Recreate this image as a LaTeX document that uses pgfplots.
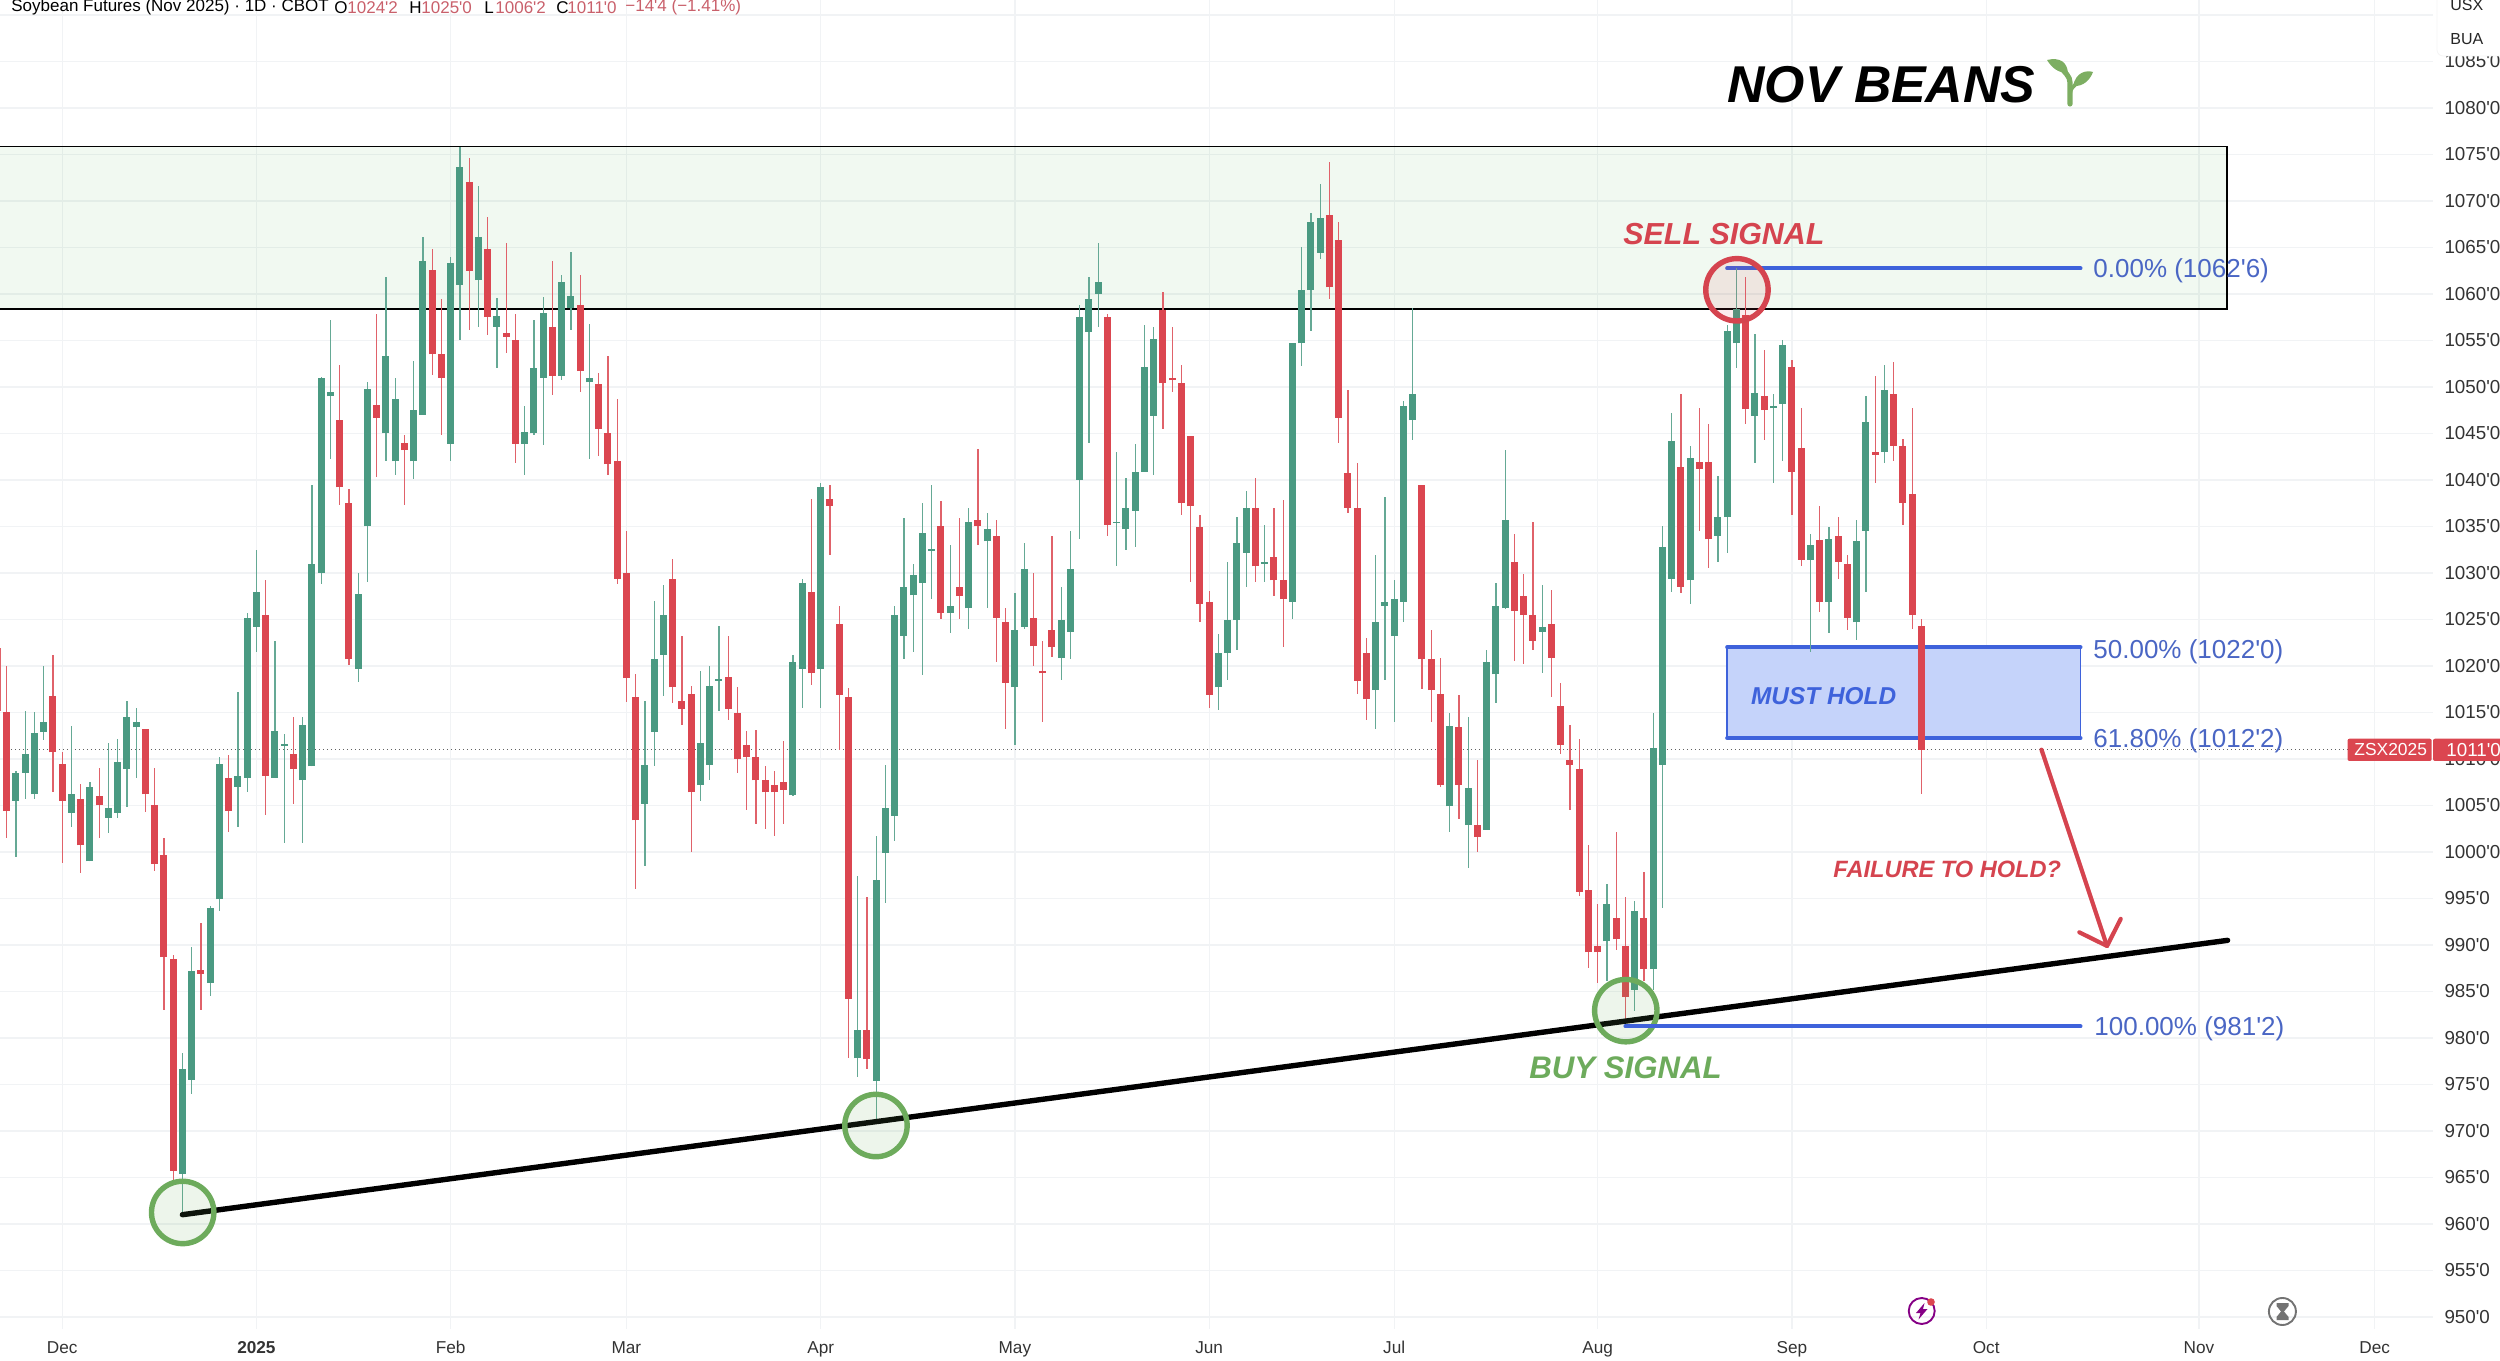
\documentclass[border=0pt]{standalone}
\usepackage{pgfplots}
\usepackage{pgfplotstable}
\usepackage{fontspec}
\pgfplotsset{compat=1.18}
\newfontfamily\lib{Liberation Sans}
\definecolor{cg}{HTML}{4A9A82}
\definecolor{cr}{HTML}{DB4650}
\definecolor{grid}{HTML}{F1F3F5}
\definecolor{fib}{HTML}{3E62DB}
\definecolor{fibfill}{HTML}{C5D3FA}
\definecolor{fibtxt}{HTML}{4A66C4}
\definecolor{annr}{HTML}{D5444F}
\definecolor{anng}{HTML}{6DAB5C}
\definecolor{hdrr}{HTML}{C9606B}
\definecolor{sprout}{HTML}{7DAE62}
% columns: candle index, high, body top, body bottom, low
\pgfplotstableread{
i h top bot l
1 1008.7 1008.5 1005.5 999.5
2 1015.2 1010.5 1008.5 1005.7
3 1015.0 1012.8 1006.2 1005.7
4 1020.0 1014.0 1012.9 1012.0
7 1013.5 1006.2 1004.2 1002.7
9 1007.5 1007.0 999.0 999.0
11 1011.7 1004.7 1003.7 1002.0
12 1012.2 1009.7 1004.2 1003.7
13 1016.2 1014.5 1008.9 1004.8
14 1015.5 1014.0 1013.4 1008.0
19 978.4 976.7 965.4 961.0
20 989.8 987.2 975.5 974.0
22 994.2 994.0 985.9 984.5
23 1010.2 1009.5 994.9 993.7
25 1017.2 1008.2 1007.0 1002.7
26 1025.7 1025.2 1008.0 1006.5
27 1032.5 1028.0 1024.2 1021.5
29 1022.7 1013.0 1008.0 1008.0
30 1012.7 1011.6 1011.4 1001.0
32 1014.5 1013.7 1007.7 1001.0
33 1039.5 1031.0 1009.2 1009.2
34 1051.1 1051.0 1030.0 1028.8
35 1057.2 1049.5 1049.0 1042.3
38 1030.0 1027.7 1019.7 1018.3
39 1050.5 1049.8 1035.0 1029.0
41 1061.8 1053.3 1045.0 1042.0
42 1051.0 1048.7 1042.0 1040.5
44 1052.8 1047.5 1042.0 1040.1
45 1066.1 1063.5 1047.0 1047.0
48 1064.0 1063.3 1043.9 1042.0
49 1075.8 1073.6 1061.0 1055.0
51 1071.6 1066.1 1061.5 1056.5
53 1059.6 1057.6 1056.5 1052.0
56 1048.0 1045.2 1043.9 1040.5
57 1057.2 1052.0 1045.0 1044.8
58 1059.7 1058.0 1051.0 1043.8
60 1062.0 1061.3 1051.2 1050.8
61 1064.5 1059.8 1058.5 1056.1
63 1056.8 1051.0 1050.5 1042.3
69 1016.2 1009.4 1005.2 998.5
70 1027.0 1020.7 1012.9 1009.2
71 1028.7 1025.5 1021.2 1016.8
75 1019.5 1011.7 1007.2 1005.5
76 1020.0 1017.9 1009.4 1007.7
77 1024.3 1018.6 1018.4 1015.2
85 1021.2 1020.4 1006.1 1006.0
86 1029.4 1028.9 1019.7 1015.5
88 1039.7 1039.2 1019.7 1015.5
92 997.4 980.9 977.8 975.8
94 1001.7 997.0 975.4 971.2
95 1009.4 1004.7 999.9 994.5
96 1026.4 1025.5 1003.9 1001.2
97 1035.9 1028.5 1023.2 1020.8
98 1031.0 1029.8 1027.6 1021.5
99 1037.5 1034.3 1028.9 1019.0
100 1039.5 1032.6 1032.4 1027.2
102 1033.0 1026.5 1025.7 1023.5
104 1037.0 1035.5 1026.2 1024.0
106 1036.5 1034.7 1033.4 1026.2
109 1027.9 1023.9 1017.7 1011.5
110 1033.2 1030.4 1024.2 1024.0
114 1028.5 1024.9 1020.9 1018.5
115 1034.5 1030.4 1023.7 1020.7
116 1058.8 1057.5 1040.0 1033.7
117 1061.8 1059.5 1055.9 1044.0
118 1065.5 1061.3 1060.0 1056.5
120 1043.0 1035.5 1035.4 1030.7
121 1040.2 1037.0 1034.7 1032.5
122 1043.9 1040.9 1036.7 1032.8
123 1056.7 1052.2 1040.9 1040.9
124 1056.4 1055.2 1046.9 1040.5
131 1023.4 1021.4 1017.7 1015.3
132 1031.2 1024.9 1021.4 1018.5
133 1036.0 1033.2 1024.9 1021.7
134 1038.8 1037.0 1032.2 1028.5
136 1035.2 1031.2 1031.0 1029.0
139 1054.7 1054.7 1026.9 1025.0
140 1065.0 1060.4 1054.7 1052.3
141 1068.75 1067.7 1060.4 1056.0
142 1071.8 1068.2 1064.45 1063.8
148 1031.9 1024.7 1017.4 1013.2
149 1038.2 1026.9 1026.5 1018.5
150 1029.2 1027.2 1023.2 1014.0
151 1048.5 1048.0 1026.9 1024.7
152 1058.5 1049.2 1046.4 1044.3
156 1014.9 1013.6 1004.9 1002.2
158 1014.5 1006.9 1002.9 998.3
160 1021.7 1020.4 1002.4 1002.4
161 1028.9 1026.4 1019.1 1016.0
162 1043.2 1035.7 1026.2 1026.1
166 1028.7 1024.2 1023.7 1019.2
173 996.6 994.4 990.4 986.1
176 994.7 993.7 985.2 982.9
178 1014.9 1011.2 987.4 985.2
179 1035.0 1032.8 1009.4 994.0
180 1047.2 1044.2 1029.4 1028.0
182 1043.7 1042.4 1029.2 1026.7
185 1040.4 1036.0 1034.0 1031.2
186 1056.7 1056.0 1036.0 1032.2
187 1062.8 1058.4 1054.7 1052.0
189 1055.7 1049.4 1046.9 1041.8
191 1049.2 1048.0 1047.7 1039.7
192 1055.0 1054.5 1048.2 1042.0
195 1034.2 1033.0 1031.4 1021.5
197 1034.9 1033.7 1026.9 1023.5
200 1035.7 1033.4 1024.7 1022.8
201 1049.0 1046.2 1034.5 1028.0
203 1052.4 1049.7 1043.0 1041.8
}\greendata
\pgfplotstableread{
i h top bot l
0 1020.0 1015.0 1004.4 1001.5
5 1021.2 1016.8 1010.7 1006.5
6 1010.7 1009.5 1005.5 998.8
8 1007.3 1005.7 1000.7 997.7
10 1009.0 1006.0 1005.0 1001.5
15 1013.2 1013.2 1006.2 1004.3
16 1009.0 1005.0 998.7 998.0
17 1001.5 999.7 988.7 983.0
18 988.9 988.5 965.7 964.6
21 992.4 987.3 986.9 983.0
24 1010.4 1008.0 1004.4 1002.2
28 1029.2 1025.5 1008.2 1004.0
31 1014.5 1010.5 1008.9 1005.2
36 1052.4 1046.5 1039.2 1037.3
37 1039.0 1037.5 1020.7 1020.1
40 1057.8 1048.1 1046.7 1040.3
43 1044.8 1044.0 1043.2 1037.3
46 1064.8 1062.6 1053.5 1051.3
47 1059.5 1053.5 1051.0 1044.8
50 1074.6 1072.0 1062.5 1056.1
52 1068.3 1064.8 1057.5 1055.6
54 1065.5 1055.8 1055.4 1053.6
55 1057.8 1055.0 1043.9 1041.8
59 1063.5 1056.5 1051.2 1049.1
62 1062.0 1058.8 1051.7 1049.5
64 1051.5 1050.3 1045.5 1042.6
65 1053.3 1045.0 1041.7 1040.5
66 1048.7 1042.0 1029.4 1028.8
67 1034.5 1030.0 1018.7 1016.1
68 1019.1 1016.7 1003.4 996.0
72 1031.5 1029.3 1017.7 1016.0
73 1023.2 1016.2 1015.4 1013.7
74 1017.9 1017.0 1006.4 1000.0
78 1023.2 1018.8 1015.4 1014.2
79 1017.7 1014.9 1010.0 1008.5
80 1013.0 1011.5 1010.2 1004.5
81 1013.1 1010.2 1007.7 1003.0
82 1009.2 1007.7 1006.4 1002.5
83 1008.7 1007.2 1006.4 1001.7
84 1011.9 1007.5 1006.7 1003.0
87 1037.95 1028.0 1019.2 1018.0
89 1039.5 1037.95 1037.2 1031.95
90 1026.4 1024.5 1016.9 1011.0
91 1017.6 1016.7 984.2 977.9
93 995.2 980.9 977.7 976.7
101 1037.7 1035.0 1025.7 1025.0
103 1035.9 1028.5 1027.5 1025.0
105 1043.3 1035.7 1035.0 1033.0
107 1035.7 1034.0 1025.2 1020.4
108 1026.2 1024.7 1018.2 1013.2
111 1030.0 1025.2 1022.1 1020.0
112 1022.7 1019.5 1019.2 1014.0
113 1034.0 1023.9 1022.0 1021.0
119 1057.8 1057.5 1035.2 1034.0
125 1060.2 1058.3 1050.4 1045.5
126 1056.4 1051.0 1050.7 1049.5
127 1052.4 1050.4 1037.5 1036.2
128 1044.7 1044.7 1037.2 1029.0
129 1036.2 1034.9 1026.7 1024.7
130 1028.1 1026.9 1016.9 1015.5
135 1040.2 1037.0 1030.7 1029.0
137 1037.0 1031.7 1029.2 1027.5
138 1037.9 1029.2 1027.2 1022.0
143 1074.2 1068.5 1060.7 1059.5
144 1067.7 1065.8 1046.7 1044.0
145 1049.7 1040.7 1037.0 1036.5
146 1041.8 1037.0 1018.4 1017.0
147 1023.0 1021.4 1016.4 1014.2
153 1039.5 1039.5 1020.7 1017.5
154 1023.9 1020.8 1017.4 1014.0
155 1020.9 1017.0 1007.2 1007.0
157 1016.9 1013.4 1007.2 1003.5
159 1009.9 1002.9 1001.6 1000.0
163 1034.2 1031.2 1025.9 1020.5
164 1029.9 1027.5 1025.5 1020.2
165 1035.5 1025.5 1022.7 1021.7
167 1028.2 1024.5 1020.9 1016.7
168 1018.2 1015.7 1011.5 1010.5
169 1013.7 1009.9 1009.4 1004.5
170 1012.2 1008.9 995.7 995.3
171 1000.7 995.9 989.2 987.5
172 994.4 989.9 989.2 985.9
174 1002.1 992.9 990.6 989.5
175 995.2 989.9 984.4 981.2
177 997.9 992.9 987.4 986.1
181 1049.2 1041.4 1028.5 1027.8
183 1047.7 1041.9 1041.2 1034.5
184 1046.0 1041.9 1033.6 1030.5
188 1061.8 1057.7 1047.6 1046.0
190 1054.0 1049.0 1047.5 1044.3
193 1052.9 1052.2 1040.9 1036.2
194 1047.7 1043.4 1031.4 1030.7
196 1037.2 1033.5 1026.9 1025.8
198 1036.0 1034.0 1031.2 1029.3
199 1031.9 1031.0 1025.2 1023.9
202 1051.2 1043.0 1042.7 1039.7
204 1052.7 1049.2 1043.7 1042.0
205 1044.4 1043.7 1037.5 1035.2
206 1047.7 1038.5 1025.5 1024.0
207 1025.0 1024.25 1011.0 1006.25
}\reddata
\begin{document}
\begin{tikzpicture}
\path[use as bounding box] (0,0) rectangle (1250pt,680pt);
\begin{axis}[
  at={(0,15.5pt)}, anchor=south west, scale only axis,
  width=1216.5pt, height=664.5pt,
  xmin=-0.721, xmax=262.31, ymin=948.71, ymax=1091.61,
  axis line style={draw=none}, tick style={draw=none},
  major tick length=0pt,
  grid=major, grid style={draw=grid, line width=.6pt},
  xtick={6,27,48,67,88,109,130,150,172,193,214,237,256},
  xticklabels={Dec,\textbf{2025},Feb,Mar,Apr,May,Jun,Jul,Aug,Sep,Oct,Nov,Dec},
  xticklabel style={font=\lib\fontsize{8.6}{10}\selectfont, color=black!80, anchor=center, yshift=-9.8pt, text height=1.6ex, text depth=.4ex},
  ytick={950,955,...,1090},
  yticklabel pos=right,
  yticklabel={\pgfmathparse{int(\tick)}\pgfmathresult'0},
  yticklabel style={font=\lib\fontsize{9.4}{11}\selectfont, color=black!80, anchor=west, xshift=2.2pt},
  clip=true,
]
% resistance zone
\addplot[forget plot, fill=green!55!black, fill opacity=.055, draw=none] coordinates {(-3,1058.4)(240.05,1058.4)(240.05,1075.85)(-3,1075.85)} --cycle;
\addplot[forget plot, draw=black, line width=.75pt] coordinates {(-3,1075.85)(240.05,1075.85)(240.05,1058.4)(-3,1058.4)};
% last price line
\addplot[forget plot, draw=black!62, line width=.5pt, dash pattern=on .7pt off 1.3pt] coordinates {(-3,1011)(254,1011)};
% fibonacci levels
\addplot[forget plot, fill=fibfill, draw=fib, line width=.8pt] coordinates {(186,1012.25)(224.2,1012.25)(224.2,1022)(186,1022)} --cycle;
\addplot[forget plot, draw=fib, line width=2pt, line cap=round] coordinates {(186,1022)(224.2,1022)};
\addplot[forget plot, draw=fib, line width=2pt, line cap=round] coordinates {(186,1012.25)(224.2,1012.25)};
\addplot[forget plot, draw=fib, line width=2pt, line cap=round] coordinates {(186,1062.75)(224.2,1062.75)};
% wick of the candle cut off by the left edge
\addplot[forget plot, draw=cr!85!white, line width=.6pt] coordinates {(-0.65,1021.9)(-0.65,1015.2)};
% wicks
\addplot[forget plot, draw=none, mark=none, error bars/.cd, y dir=both, y explicit, error mark=none, error bar style={draw=cg!85!white, line width=.6pt, solid}]
  table[x=i, y=bot, y error plus expr=\thisrow{h}-\thisrow{bot}, y error minus expr=\thisrow{bot}-\thisrow{l}] {\greendata};
\addplot[forget plot, draw=none, mark=none, error bars/.cd, y dir=both, y explicit, error mark=none, error bar style={draw=cr!85!white, line width=.6pt, solid}]
  table[x=i, y=bot, y error plus expr=\thisrow{h}-\thisrow{bot}, y error minus expr=\thisrow{bot}-\thisrow{l}] {\reddata};
% bodies
\addplot[forget plot, draw=none, mark=none, error bars/.cd, y dir=plus, y explicit, error mark=none, error bar style={draw=cg, line width=3.5pt, solid}]
  table[x=i, y=bot, y error plus expr=\thisrow{top}-\thisrow{bot}] {\greendata};
\addplot[forget plot, draw=none, mark=none, error bars/.cd, y dir=plus, y explicit, error mark=none, error bar style={draw=cr, line width=3.5pt, solid}]
  table[x=i, y=bot, y error plus expr=\thisrow{top}-\thisrow{bot}] {\reddata};
% trend line
\addplot[forget plot, draw=black, line width=2.7pt, line cap=round] coordinates {(19,961)(240.1,990.5)};
% signal circles
\draw[anng, line width=2.7pt, fill=anng, fill opacity=.12, draw opacity=1] (axis cs:19.03,961.24) circle [radius=15.6pt];
\draw[anng, line width=2.7pt, fill=anng, fill opacity=.12, draw opacity=1] (axis cs:93.98,970.59) circle [radius=15.6pt];
\draw[anng, line width=2.7pt, fill=anng, fill opacity=.12, draw opacity=1] (axis cs:175.04,982.94) circle [radius=15.6pt];
\draw[annr, line width=2.7pt, fill=annr, fill opacity=.10, draw opacity=1] (axis cs:187.06,1060.45) circle [radius=15.6pt];
\addplot[forget plot, draw=fib, line width=2pt, line cap=round] coordinates {(175,981.25)(224.2,981.25)};
\end{axis}
\begin{scope}[x=.5pt,y=-.5pt,yshift=680pt]
  % header
  \tikzset{h/.style={anchor=west, inner sep=0pt, font=\lib\fontsize{8.5}{10}\selectfont}}
  \node[h] at (11,7.5) {Soybean Futures (Nov 2025) · 1D · CBOT};
  \node[h] at (334,7.5) {O};
  \node[h,text=hdrr] at (347,7.5) {1024'2};
  \node[h] at (409,7.5) {H};
  \node[h,text=hdrr] at (421,7.5) {1025'0};
  \node[h] at (484,7.5) {L};
  \node[h,text=hdrr] at (495,7.5) {1006'2};
  \node[h] at (556,7.5) {C};
  \node[h,text=hdrr] at (567,7.5) {1011'0};
  \node[h,text=hdrr] at (625,7.5) {−14'4 (−1.41\%)};
  % currency box
  \fill[white, rounded corners=3pt, draw=black!4] (2437,-10) rectangle (2510,56);
  \node[anchor=west, inner sep=0pt, font=\lib\fontsize{8}{10}\selectfont, text=black!85] at (2450,5) {USX};
  \node[anchor=west, inner sep=0pt, font=\lib\fontsize{8}{10}\selectfont, text=black!85] at (2450,39) {BUA};
  % price tag
  \fill[cr, rounded corners=1pt] (2347.5,738.7) rectangle (2431.7,761);
  \fill[cr, rounded corners=1pt] (2433,738.7) rectangle (2510,761);
  \node[anchor=west, inner sep=0pt, font=\lib\fontsize{8.7}{10}\selectfont, text=white] at (2354,749.8) {ZSX2025};
  \node[anchor=west, inner sep=0pt, font=\lib\fontsize{9.4}{10}\selectfont, text=white] at (2446,749.8) {1011'0};
  % title and sprout
  \node[anchor=west, inner sep=0pt, font=\lib\bfseries\itshape\fontsize{25.9}{30}\selectfont, text=black] at (1727,85) {NOV BEANS};
  \fill[sprout] (2047,60) .. controls (2060,57) and (2067,62) .. (2068,73) .. controls (2058,73) and (2052,68) .. cycle;
  \fill[sprout] (2093,72) .. controls (2086,70) and (2076,72) .. (2073,86) .. controls (2083,87) and (2090,80) .. cycle;
  \draw[sprout, line width=2.6pt, line cap=round] (2070,104) -- (2070,88) .. controls (2070,78) .. (2063,70);
  \draw[sprout, line width=1.8pt, line cap=round] (2070,94) .. controls (2071,89) .. (2076,84);
  % annotations
  \tikzset{a/.style={anchor=west, inner sep=0pt, font=\lib\bfseries\itshape\fontsize{#1}{#1}\selectfont}}
  \node[a=15.2, text=annr] at (1623,234) {SELL SIGNAL};
  \node[a=15.6, text=anng] at (1529,1068) {BUY SIGNAL};
  \node[a=12.2, text=fib] at (1750.7,696) {MUST HOLD};
  \node[a=11.8, text=annr] at (1833,869) {FAILURE TO HOLD?};
  % fibonacci labels
  \tikzset{f/.style={anchor=west, inner sep=0pt, text=fibtxt, font=\lib\fontsize{13}{15}\selectfont}}
  \node[f] at (2093,271) {0.00\% (1062'6)};
  \node[f] at (2093,652) {50.00\% (1022'0)};
  \node[f] at (2093,740.5) {61.80\% (1012'2)};
  \node[f] at (2094,1028.3) {100.00\% (981'2)};
  % arrow
  \draw[annr, line width=2.1pt, line cap=round, line join=round] (2041.5,749.7) -- (2107,946);
  \draw[annr, line width=2.1pt, line cap=round, line join=round] (2079.3,932.3) -- (2107,946) -- (2120.7,918.9);
  % icons
  \draw[violet!70!magenta!80!black, line width=.95pt] (1921.7,1311) circle [radius=13];
  \fill[violet!70!magenta!80!black] (1924.5,1303) -- (1916,1313) -- (1920.5,1313) -- (1918.5,1319.5) -- (1927.5,1309) -- (1923,1309) -- cycle;
  \fill[cr] (1931,1302) circle [radius=3.8];
  \draw[black!55, line width=.95pt] (2282.4,1311.5) circle [radius=13.5];
  \fill[black!55] (2276.5,1303) -- (2288.5,1303) -- (2288.5,1306) -- (2284,1311.5) -- (2288.5,1317) -- (2288.5,1320) -- (2276.5,1320) -- (2276.5,1317) -- (2281,1311.5) -- (2276.5,1306) -- cycle;
\end{scope}
\end{tikzpicture}
\end{document}
